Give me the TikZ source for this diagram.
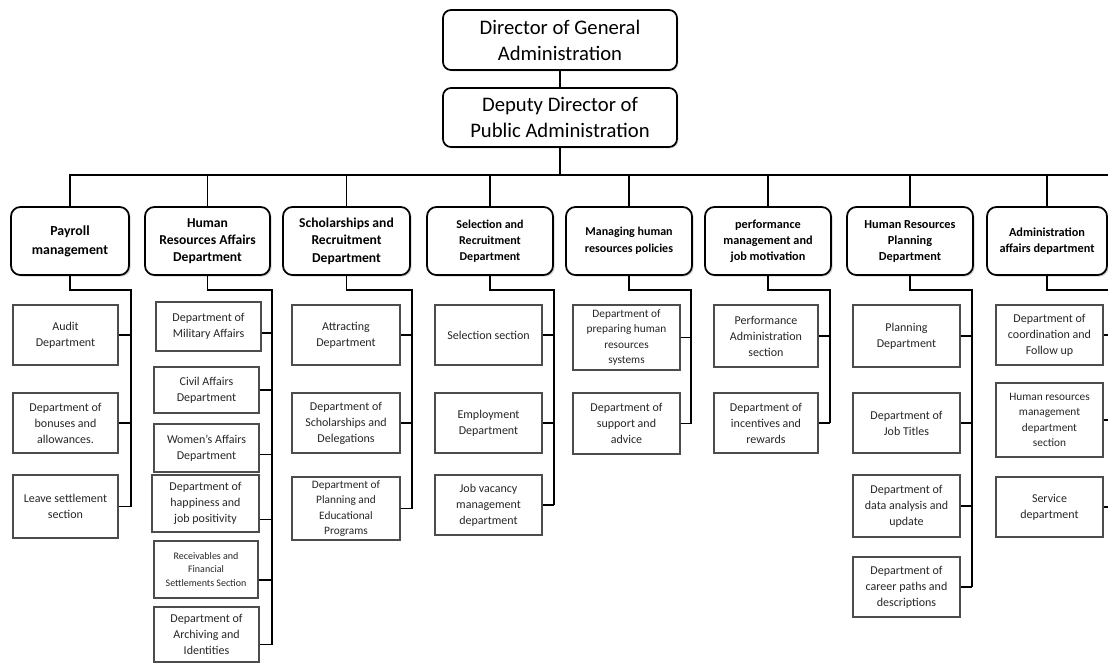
\documentclass[tikz,border=0pt]{standalone}
\usepackage{fontspec}
\setmainfont{Carlito}
\usetikzlibrary{shadows}
\begin{document}
\begin{tikzpicture}[x=0.75pt,y=-0.75pt,
  rect/.style args={#1/#2/#3/#4}{at={({(#1+#3)/2},{(#2+#4)/2})}, anchor=center,
    minimum width={(#3-#1)*0.75pt}, minimum height={(#4-#2)*0.75pt}},
  topbox/.style={draw=black, line width=1.3pt, rounded corners=6pt, fill=white, inner sep=0pt, align=center,
    font=\fontsize{15.5}{19.5}\selectfont,
    drop shadow={shadow xshift=1pt, shadow yshift=-1pt, opacity=0.3}},
  midbox/.style={draw=black, line width=1.3pt, rounded corners=7pt, fill=white, inner sep=0pt, align=center,
    font=\bfseries\fontsize{10.2}{13}\selectfont,
    drop shadow={shadow xshift=1.2pt, shadow yshift=-1.2pt, opacity=0.35}},
  cbox/.style={draw=black!70, line width=0.8pt, fill=white, inner sep=0pt, align=center, text=black!85,
    font=\fontsize{9}{12}\selectfont,
    drop shadow={shadow xshift=0.8pt, shadow yshift=-0.8pt, opacity=0.2}},
  small/.style={font=\fontsize{7.5}{10}\selectfont},
  link/.style={draw=black, line width=1.2pt},
]
\useasboundingbox (0,0) rectangle (1108,664);
\fill[white] (0,0) rectangle (1108,664);
\clip (0,0) rectangle (1108,664);

% top levels
\node[topbox, rect=443/10/677/70] (top) {Director of General\\Administration};
\node[topbox, rect=443/88/677/147] (dep) {Deputy Director of\\Public Administration};

% second level
\node[midbox, rect=11/207/129/275, font=\bfseries\fontsize{10.4}{14}\selectfont] (pay) {Payroll\\management};
\node[midbox, rect=145/207/270/275] (hra) {Human\\Resources Affairs\\Department};
\node[midbox, rect=283/207/410/275] (sch) {Scholarships and\\Recruitment\\Department};
\node[midbox, rect=427/207/553/275, font=\bfseries\fontsize{9}{12}\selectfont] (sel) {Selection and\\Recruitment\\Department};
\node[midbox, rect=566/207/692/275, font=\bfseries\fontsize{9}{12.5}\selectfont] (man) {Managing human\\resources policies};
\node[midbox, rect=705/207/831/275, font=\bfseries\fontsize{9.2}{12}\selectfont] (perf) {performance\\management and\\job motivation};
\node[midbox, rect=847/207/973/275, font=\bfseries\fontsize{9.2}{12}\selectfont] (hrp) {Human Resources\\Planning\\Department};
\node[midbox, rect=987/207/1107/275, font=\bfseries\fontsize{9.2}{12.5}\selectfont] (adm) {Administration\\affairs department};

% children: payroll
\node[cbox, rect=13/305/118/365] (audit) {Audit\\Department};
\node[cbox, rect=13/393/118/453] (bon) {Department of\\bonuses and\\allowances.};
\node[cbox, rect=13/475/118/538] (leave) {Leave settlement\\section};
% children: HR affairs
\node[cbox, rect=156/302/261/351] (mil) {Department of\\Military Affairs};
\node[cbox, rect=154/367/259/413] (civ) {Civil Affairs\\Department};
\node[cbox, rect=154/424/259/472] (wom) {Women's Affairs\\Department};
\node[cbox, rect=152/475/259/532] (hap) {Department of\\happiness and\\job positivity};
\node[cbox, small, rect=154/541/258/598] (rec) {Receivables and\\Financial\\Settlements Section};
\node[cbox, rect=154/607/259/662] (arc) {Department of\\Archiving and\\Identities};
% children: scholarships
\node[cbox, rect=292/305/400/365] (att) {Attracting\\Department};
\node[cbox, rect=292/393/400/453] (sdel) {Department of\\Scholarships and\\Delegations};
\node[cbox, rect=292/477/400/540, font=\fontsize{8.5}{11.5}\selectfont] (ped) {Department of\\Planning and\\Educational\\Programs};
% children: selection
\node[cbox, rect=435/305/542/365] (ssec) {Selection section};
\node[cbox, rect=435/393/542/453] (emp) {Employment\\Department};
\node[cbox, rect=435/475/542/535] (jvac) {Job vacancy\\management\\department};
% children: managing
\node[cbox, rect=573/305/680/370, font=\fontsize{8.5}{11.5}\selectfont] (prep) {Department of\\preparing human\\resources\\systems};
\node[cbox, rect=573/393/680/454] (sup) {Department of\\support and\\advice};
% children: performance
\node[cbox, rect=714/305/818/367] (padm) {Performance\\Administration\\section};
\node[cbox, rect=714/393/818/453] (inc) {Department of\\incentives and\\rewards};
% children: HR planning
\node[cbox, rect=853/305/960/367] (plan) {Planning\\Department};
\node[cbox, rect=853/393/960/453] (jtit) {Department of\\Job Titles};
\node[cbox, rect=853/475/960/537] (data) {Department of\\data analysis and\\update};
\node[cbox, rect=853/557/960/617] (car) {Department of\\career paths and\\descriptions};
% children: administration
\node[cbox, rect=996/305/1103/365] (coord) {Department of\\coordination and\\Follow up};
\node[cbox, rect=996/383/1103/457, font=\fontsize{8.5}{11.5}\selectfont] (hrm) {Human resources\\management\\department\\section};
\node[cbox, rect=996/477/1103/537] (serv) {Service\\department};

% top connectors
\coordinate (bus) at (560,175);
\coordinate (busE) at (1108,175);
\draw[link] (top) -- (dep);
\draw[link] (dep.south) -- (bus);
\draw[link] (bus) -- (busE);
\foreach \n in {pay,hra,sch,sel,man,perf,hrp,adm}{
  \draw[link] (bus) -| (\n.north);
}

% vertical spines
\coordinate (payv) at (131,290);
\coordinate (hrav) at (272,290);
\coordinate (schv) at (412,290);
\coordinate (selv) at (554,290);
\coordinate (manv) at (691,290);
\coordinate (perfv) at (830,290);
\coordinate (hrpv) at (972,290);
\coordinate (admv) at (1116,290);

% stub anchors with offsets
\coordinate (milS) at ([yshift=-5pt]mil.east);
\coordinate (womS) at ([yshift=-5pt]wom.east);
\coordinate (hapS) at ([yshift=-12pt]hap.east);
\coordinate (recS) at ([yshift=-8pt]rec.east);
\coordinate (arcS) at ([yshift=-7.5pt]arc.east);

\draw[link] (pay.south) |- (payv) -- (payv |- leave.east);
\foreach \c in {audit,bon,leave}{ \draw[link] (\c.east) -- (\c.east -| payv); }

\draw[link] (hra.south) |- (hrav) -- (hrav |- arcS);
\foreach \c in {milS,civ.east,womS,hapS,recS,arcS}{ \draw[link] (\c) -- (\c -| hrav); }

\draw[link] (sch.south) |- (schv) -- (schv |- ped.east);
\foreach \c in {att,sdel,ped}{ \draw[link] (\c.east) -- (\c.east -| schv); }

\draw[link] (sel.south) |- (selv) -- (selv |- jvac.east);
\foreach \c in {ssec,emp,jvac}{ \draw[link] (\c.east) -- (\c.east -| selv); }

\draw[link] (man.south) |- (manv) -- (manv |- sup.east);
\foreach \c in {prep,sup}{ \draw[link] (\c.east) -- (\c.east -| manv); }

\draw[link] (perf.south) |- (perfv) -- (perfv |- inc.east);
\foreach \c in {padm,inc}{ \draw[link] (\c.east) -- (\c.east -| perfv); }

\draw[link] (hrp.south) |- (hrpv) -- (hrpv |- car.east);
\foreach \c in {plan,jtit,data,car}{ \draw[link] (\c.east) -- (\c.east -| hrpv); }

\draw[link] (adm.south) |- (admv) -- (admv |- serv.east);
\foreach \c in {coord,hrm,serv}{ \draw[link] (\c.east) -- (\c.east -| admv); }
\end{tikzpicture}
\end{document}
